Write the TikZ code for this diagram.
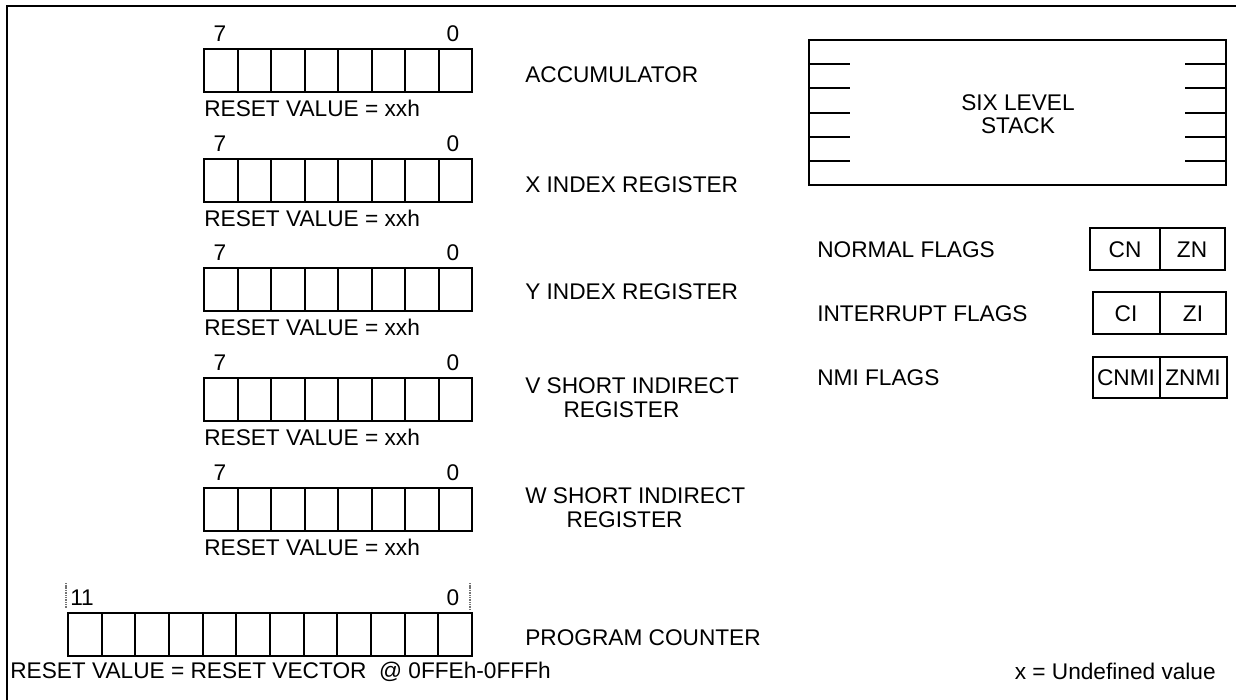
\documentclass[tikz,border=0pt]{standalone}
\usepackage{fontspec}
\setmainfont{Liberation Sans}
\begin{document}
\begin{tikzpicture}[x=0.75pt,y=-0.75pt,
  lbl/.style={font=\fontsize{17}{20}\selectfont, inner sep=0pt},
  frame/.style={line width=2pt},
  reg/.style={line width=1.5pt},
  tick/.style={line width=1.5pt},
  bitmark/.style={black!55, line width=0.9pt, dash pattern=on 0.8pt off 0.5pt}]
\useasboundingbox (0,0) rectangle (1236,700);
% frame
\draw[frame] (7,700) -- (7,6) -- (1236,6);
% 8-bit registers
\foreach \n/\t in {acc/49, xi/159, yi/268, vs/378, ws/488} {
  \foreach \i in {0,...,7} \draw[reg] ({204+\i*33.5},\t) rectangle ++(33.5,43);
  \node[lbl, anchor=base] (\n-msb) at (220,\t-8) {7};
  \node[lbl, anchor=base] (\n-lsb) at (453,\t-8) {0};
  \node[lbl, anchor=base west] (\n-rst) at (204,\t+67) {RESET VALUE = xxh};
}
\node[lbl, anchor=base west] (acc-l) at (525,82) {ACCUMULATOR};
\node[lbl, anchor=base west] (xi-l) at (525,192) {X INDEX REGISTER};
\node[lbl, anchor=base west] (yi-l) at (525,299) {Y INDEX REGISTER};
\node[lbl, anchor=base west] (vs-l) at (525,393) {V SHORT INDIRECT};
\node[lbl, anchor=base] (vs-l2) at ([xshift=-8pt,yshift=-18pt]vs-l.base) {REGISTER};
\node[lbl, anchor=base west] (ws-l) at (525,503) {W SHORT INDIRECT};
\node[lbl, anchor=base] (ws-l2) at ([xshift=-8pt,yshift=-18pt]ws-l.base) {REGISTER};
% program counter
\foreach \i in {0,...,11} \draw[reg] ({68+\i*33.67},613) rectangle ++(33.67,43);
\node[lbl, anchor=base west] (pc-msb) at (70,605) {11};
\node[lbl, anchor=base] (pc-lsb) at (453,605) {0};
\coordinate (m1a) at (66,583); \coordinate (m1b) at (66,608);
\coordinate (m2a) at (470,583); \coordinate (m2b) at (470,610);
\draw[bitmark] (m1a) -- (m1b);
\draw[bitmark] (m2a) -- (m2b);
\node[lbl, anchor=base west] (pc-l) at (525,645) {PROGRAM COUNTER};
\node[lbl, anchor=base west] (pc-rst) at (10,678) {RESET VALUE = RESET VECTOR \ @ 0FFEh-0FFFh};
% stack
\draw[reg] (809,40) rectangle (1226,185);
\foreach \k in {1,...,5} {
  \draw[tick] (809,{40+\k*145/6}) -- (850,{40+\k*145/6});
  \draw[tick] (1185,{40+\k*145/6}) -- (1226,{40+\k*145/6});
}
\node[lbl, anchor=base] (stk1) at (1018,110) {SIX LEVEL};
\node[lbl, anchor=base] (stk2) at (1018,133) {STACK};
% flags
\node[lbl, anchor=base west] (nf) at (817,257) {NORMAL FLAGS};
\draw[reg] (1090,228) rectangle (1225,270); \draw[reg] (1160,228) -- (1160,270);
\node[lbl, anchor=base] (cn) at (1125,257) {CN};
\node[lbl, anchor=base] (zn) at (1192,257) {ZN};
\node[lbl, anchor=base west] (inf) at (817,321) {INTERRUPT FLAGS};
\draw[reg] (1093,292) rectangle (1226,334); \draw[reg] (1160,292) -- (1160,334);
\node[lbl, anchor=base] (ci) at (1126,321) {CI};
\node[lbl, anchor=base] (zi) at (1193,321) {ZI};
\node[lbl, anchor=base west] (nmf) at (817,385) {NMI FLAGS};
\draw[reg] (1093,357) rectangle (1227,398); \draw[reg] (1160,357) -- (1160,398);
\node[lbl, anchor=base] (cnmi) at (1126,385) {CNMI};
\node[lbl, anchor=base] (znmi) at (1193,385) {ZNMI};
% legend
\node[lbl, anchor=base east] (legend) at (1216,679) {x = Undefined value};
\end{tikzpicture}
\end{document}
